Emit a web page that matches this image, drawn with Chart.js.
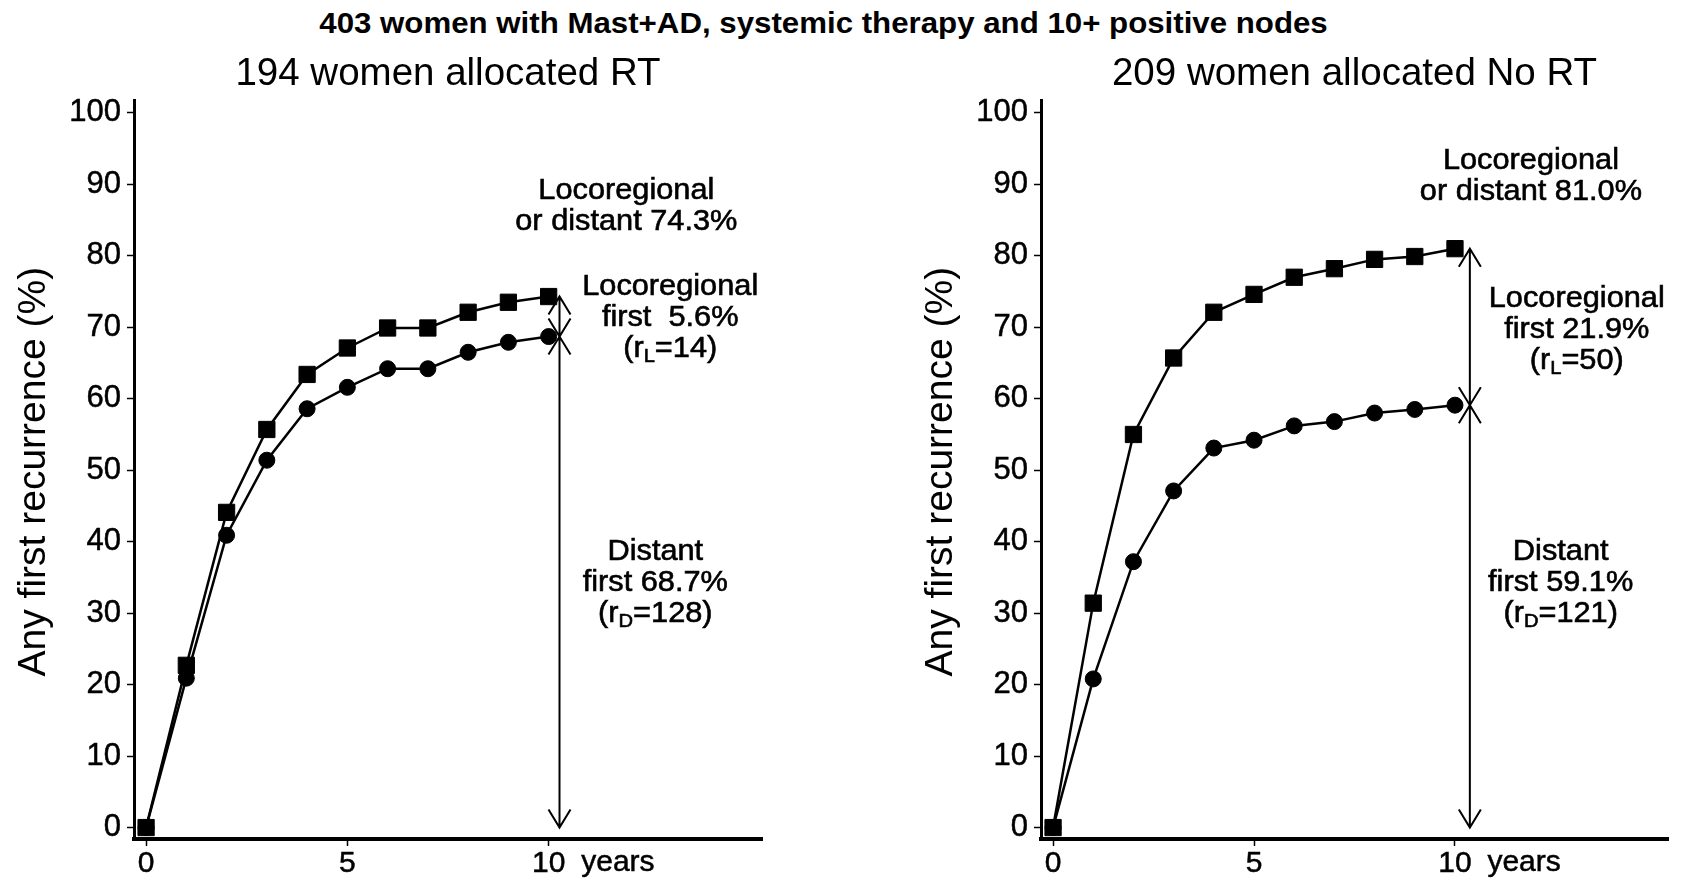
<!DOCTYPE html>
<html lang="en">
<head>
<meta charset="utf-8">
<title>Any first recurrence by allocation</title>
<script src="https://cdn.jsdelivr.net/npm/chart.js@4.4.1/dist/chart.umd.min.js"></script>
<style>
    html, body { margin: 0; padding: 0; background: #fff; }
    body { width: 1683px; height: 879px; position: relative; overflow: hidden; font-family: 'Liberation Sans', Arial, sans-serif; }
    #titulo {
        position: absolute; left: 0; top: 9px; width: 1647px;
        text-align: center; font-weight: bold; font-size: 29px; line-height: 29px;
        transform: scaleX(1.077); color: #000; white-space: nowrap;
    }
    .panel { position: absolute; top: 0; height: 879px; }
    #panel-rt { left: 0; width: 841px; }
    #panel-nort { left: 841px; width: 842px; }
</style>
</head>
<body>
<div id="titulo">403 women with Mast+AD, systemic therapy and 10+ positive nodes</div>
<div class="panel" id="panel-rt"><canvas id="grafico-rt"></canvas></div>
<div class="panel" id="panel-nort"><canvas id="grafico-nort"></canvas></div>

<script>
const years = [0, 1, 2, 3, 4, 5, 6, 7, 8, 9, 10];

// allocated RT
const rtAnyFirst = [0, 22.7, 44.1, 55.7, 63.4, 67.1, 69.9, 69.9, 72.1, 73.5, 74.3];
const rtDistantFirst = [0, 20.9, 40.9, 51.4, 58.6, 61.6, 64.2, 64.2, 66.5, 67.9, 68.7];
const rtArrowStops = [0, 68.7, 74.3];

// allocated No RT
const noRtAnyFirst = [0, 31.4, 55.0, 65.7, 72.1, 74.6, 77.0, 78.2, 79.5, 79.9, 81.0];
const noRtDistantFirst = [0, 20.8, 37.2, 47.1, 53.1, 54.2, 56.2, 56.8, 58.0, 58.5, 59.1];
const noRtArrowStops = [0, 59.1, 81.0];

const yTicks = [0, 10, 20, 30, 40, 50, 60, 70, 80, 90, 100];
const xTicks = [0, 5, 10];

const rtTitle = '194 women allocated RT';
const noRtTitle = '209 women allocated No RT';
const yTitle = 'Any first recurrence (%)';

const rtNotes = [
    { at: [11.93, 88.0], lines: ['Locoregional', 'or distant 74.3%'] },
    { at: [13.02, 74.5], lines: ['Locoregional', 'first  5.6%', '(r_L=14)'] },
    { at: [12.65, 37.4], lines: ['Distant', 'first 68.7%', '(r_D=128)'] }
];
const noRtNotes = [
    { at: [11.89, 92.2], lines: ['Locoregional', 'or distant 81.0%'] },
    { at: [13.03, 72.8], lines: ['Locoregional', 'first 21.9%', '(r_L=50)'] },
    { at: [12.63, 37.4], lines: ['Distant', 'first 59.1%', '(r_D=121)'] }
];

document.addEventListener('DOMContentLoaded', function () {
    const FAMILIA = "'Liberation Sans', Arial, sans-serif";
    Chart.defaults.font.family = FAMILIA;
    Chart.defaults.color = '#000';

    const paneles = {
        'grafico-rt': {
            titulo: rtTitle,
            any: rtAnyFirst,
            distant: rtDistantFirst,
            flechas: rtArrowStops,
            xFlecha: 10.27,
            notas: rtNotes,
            anchoEjeY: 134,
            margenDerecho: 79
        },
        'grafico-nort': {
            titulo: noRtTitle,
            any: noRtAnyFirst,
            distant: noRtDistantFirst,
            flechas: noRtArrowStops,
            xFlecha: 10.37,
            notas: noRtNotes,
            anchoEjeY: 200,
            margenDerecho: 15
        }
    };

    function puntos(valores) {
        return years.map(function (x, i) {
            return { x: x, y: valores[i] };
        });
    }

    // "(r_L=14)" -> partes normales y subindices
    function partir(linea) {
        const partes = [];
        linea.split(/(_\w)/).forEach(function (trozo) {
            if (!trozo) return;
            if (trozo[0] === '_') partes.push({ text: trozo.slice(1), sub: true });
            else partes.push({ text: trozo, sub: false });
        });
        return partes;
    }

    function textoRico(ctx, linea, cx, base, size, estirar) {
        const partes = partir(linea);
        ctx.save();
        ctx.translate(cx, base);
        ctx.scale(estirar, 1);
        ctx.textAlign = 'left';
        ctx.textBaseline = 'alphabetic';
        ctx.lineWidth = 0.6;
        let total = 0;
        partes.forEach(function (p) {
            ctx.font = (p.sub ? Math.round(size * 0.64) : size) + 'px ' + FAMILIA;
            p.w = ctx.measureText(p.text).width;
            total += p.w;
        });
        let x = -total / 2;
        partes.forEach(function (p) {
            ctx.font = (p.sub ? Math.round(size * 0.64) : size) + 'px ' + FAMILIA;
            const dy = p.sub ? size * 0.17 : 0;
            ctx.fillText(p.text, x, dy);
            ctx.strokeText(p.text, x, dy);
            x += p.w;
        });
        ctx.restore();
    }

    function flecha(ctx, x, yArriba, yAbajo) {
        const largo = 18;
        const medio = 11;
        ctx.beginPath();
        ctx.moveTo(x, yArriba);
        ctx.lineTo(x, yAbajo);
        ctx.moveTo(x - medio, yArriba + largo);
        ctx.lineTo(x, yArriba);
        ctx.lineTo(x + medio, yArriba + largo);
        ctx.moveTo(x - medio, yAbajo - largo);
        ctx.lineTo(x, yAbajo);
        ctx.lineTo(x + medio, yAbajo - largo);
        ctx.stroke();
    }

    const textosPlugin = {
        id: 'textosFigura',
        afterDraw: function (chart) {
            const cfg = paneles[chart.canvas.id];
            const ctx = chart.ctx;
            const area = chart.chartArea;
            const sx = chart.scales.x;
            const sy = chart.scales.y;

            ctx.save();
            ctx.fillStyle = '#000';
            ctx.strokeStyle = '#000';

            // subtitulo del panel
            ctx.font = '38.5px ' + FAMILIA;
            ctx.textAlign = 'center';
            ctx.textBaseline = 'alphabetic';
            ctx.fillText(cfg.titulo, (area.left + area.right) / 2, 85);

            // titulo del eje y
            ctx.save();
            ctx.translate(area.left - 100, sy.getPixelForValue(49.8));
            ctx.rotate(-Math.PI / 2);
            ctx.font = '39px ' + FAMILIA;
            ctx.textBaseline = 'middle';
            ctx.fillText(yTitle, 0, 0);
            ctx.restore();

            // "years" junto al 10
            ctx.font = '30px ' + FAMILIA;
            ctx.textBaseline = 'middle';
            ctx.lineWidth = 0.5;
            ctx.fillText('years', sx.getPixelForValue(11.72), sx.top + 24);
            ctx.strokeText('years', sx.getPixelForValue(11.72), sx.top + 24);

            // flechas
            ctx.lineWidth = 2;
            const xf = sx.getPixelForValue(cfg.xFlecha);
            for (let i = 0; i < cfg.flechas.length - 1; i++) {
                flecha(ctx, xf, sy.getPixelForValue(cfg.flechas[i + 1]), sy.getPixelForValue(cfg.flechas[i]));
            }

            // notas
            cfg.notas.forEach(function (nota) {
                const cx = sx.getPixelForValue(nota.at[0]);
                const base = sy.getPixelForValue(nota.at[1]);
                nota.lines.forEach(function (linea, i) {
                    textoRico(ctx, linea, cx, base + i * 31, 29, 1.06);
                });
            });

            ctx.restore();
        }
    };

    function crearGrafico(canvasId) {
        const cfg = paneles[canvasId];
        const canvas = document.getElementById(canvasId);

        const ejeComun = {
            grid: {
                drawOnChartArea: false,
                tickLength: 7,
                tickColor: '#000',
                tickWidth: 1.5
            }
        };

        return new Chart(canvas.getContext('2d'), {
            type: 'line',
            data: {
                datasets: [
                    {
                        label: 'Locoregional or distant',
                        data: puntos(cfg.any),
                        borderColor: '#000',
                        backgroundColor: '#000',
                        borderWidth: 2.5,
                        pointStyle: 'rect',
                        pointRadius: 11.5,
                        pointBorderWidth: 1,
                        tension: 0
                    },
                    {
                        label: 'Distant',
                        data: puntos(cfg.distant),
                        borderColor: '#000',
                        backgroundColor: '#000',
                        borderWidth: 2.5,
                        pointStyle: 'circle',
                        pointRadius: 8,
                        pointBorderWidth: 1,
                        tension: 0
                    }
                ]
            },
            plugins: [textosPlugin],
            options: {
                responsive: true,
                maintainAspectRatio: false,
                animation: false,
                layout: {
                    padding: { left: 0, top: 100, right: cfg.margenDerecho, bottom: 0 }
                },
                scales: {
                    x: {
                        type: 'linear',
                        min: -0.3,
                        max: 15.3,
                        afterBuildTicks: function (scale) {
                            scale.ticks = xTicks.map(function (v) { return { value: v }; });
                        },
                        afterFit: function (scale) {
                            scale.height = 40;
                        },
                        ticks: {
                            font: { size: 30 },
                            padding: 0,
                            maxRotation: 0,
                            autoSkip: false,
                            textStrokeColor: '#000',
                            textStrokeWidth: 0.5
                        },
                        grid: ejeComun.grid,
                        border: { display: true, color: '#000', width: 4 }
                    },
                    y: {
                        min: -1.6,
                        max: 101.8,
                        afterBuildTicks: function (scale) {
                            scale.ticks = yTicks.map(function (v) { return { value: v }; });
                        },
                        afterFit: function (scale) {
                            scale.width = cfg.anchoEjeY;
                        },
                        ticks: {
                            font: { size: 31 },
                            padding: 6,
                            autoSkip: false,
                            textStrokeColor: '#000',
                            textStrokeWidth: 0.5
                        },
                        grid: ejeComun.grid,
                        border: { display: true, color: '#000', width: 3 }
                    }
                },
                plugins: {
                    legend: { display: false },
                    tooltip: { enabled: false }
                }
            }
        });
    }

    Object.keys(paneles).forEach(crearGrafico);
});
</script>
</body>
</html>
